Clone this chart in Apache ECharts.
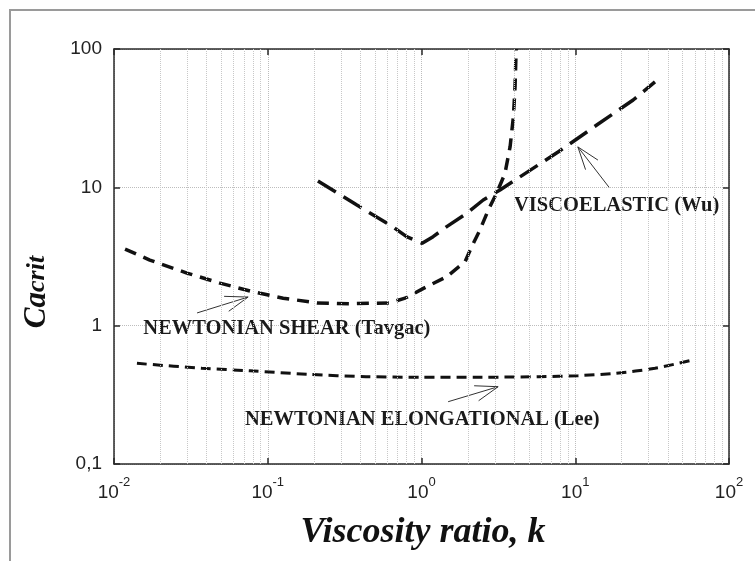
<!DOCTYPE html>
<html>
<head>
<meta charset="utf-8">
<script src="https://cdn.jsdelivr.net/npm/echarts@6/dist/echarts.min.js"></script>
<style>
html, body { margin: 0; padding: 0; background: #fff; }
#main { width: 755px; height: 561px; }
</style>
</head>
<body>
<div id="main"></div>
<script>
// axis ticks
var xExponents = ['-2', '-1', '0', '1', '2'];
var yTickValues = [0.1, 1, 10, 100];
var yTickLabels = ['0,1', '1', '10', '100'];
var minorSteps = [2, 3, 4, 5, 6, 7, 8, 9];
var decades = [0.01, 0.1, 1, 10];

// NEWTONIAN SHEAR (Tavgac)
var shearK  = [0.0118, 0.0171, 0.0298, 0.0489, 0.0767, 0.126, 0.209, 0.344, 0.62, 0.782, 1.03, 1.46, 1.92, 2.12, 2.40, 2.72, 3.08, 3.49, 3.77, 3.96, 4.06, 4.12, 4.13];
var shearCa = [3.58, 2.98, 2.40, 2.03, 1.78, 1.58, 1.46, 1.44, 1.46, 1.58, 1.86, 2.26, 2.90, 3.72, 4.92, 6.86, 9.06, 12.6, 19.7, 32.4, 53.5, 93, 100];

// VISCOELASTIC (Wu)
var viscoK  = [0.212, 0.38, 0.653, 0.80, 1.01, 1.19, 1.46, 1.97, 2.52, 3.24, 4.37, 7.73, 13.8, 23.8, 33.0];
var viscoCa = [11.1, 7.45, 5.17, 4.40, 3.94, 4.40, 5.2, 6.49, 8.1, 9.57, 11.9, 18.0, 28.2, 42.8, 57.8];

// NEWTONIAN ELONGATIONAL (Lee)
var elongK  = [0.0141, 0.0373, 0.0767, 0.183, 0.436, 0.99, 2.44, 5.81, 10.4, 18.4, 33.0, 58.3];
var elongCa = [0.534, 0.492, 0.472, 0.445, 0.428, 0.424, 0.424, 0.428, 0.435, 0.453, 0.492, 0.565];

// annotations (data units)
var labelTexts = ['VISCOELASTIC (Wu)', 'NEWTONIAN SHEAR (Tavgac)', 'NEWTONIAN ELONGATIONAL (Lee)'];
var labelAnchors = [[4.0, 7.33], [0.0155, 0.946], [0.0711, 0.208]];
var arrowTails = [[16.6, 10.0], [0.0347, 1.236], [1.49, 0.282]];
var arrowTips = [[10.4, 19.6], [0.0745, 1.61], [3.15, 0.362]];

function zip(a, b) {
    return a.map(function (v, i) { return [v, b[i]]; });
}

var minorLines = [];
decades.forEach(function (d) {
    minorSteps.forEach(function (m) { minorLines.push({ xAxis: d * m }); });
});

var myChart = echarts.init(document.getElementById('main'));

var axisLineStyle = { color: '#2a2a2a', width: 1.5 };
var tickStyle = { show: true, inside: true, length: 6, lineStyle: { color: '#2a2a2a', width: 1.5 } };
var gridStyle = { show: true, lineStyle: { color: '#bdbdbd', type: 'dotted', width: 1 } };

var option = {
    animation: false,
    backgroundColor: '#fff',
    grid: { left: 114, right: 26, top: 49, bottom: 97 },
    xAxis: [
        {
            type: 'log', logBase: 10, min: 0.01, max: 100,
            position: 'bottom',
            axisLine: { lineStyle: axisLineStyle },
            axisTick: tickStyle,
            splitLine: gridStyle,
            axisLabel: {
                margin: 12,
                formatter: function (v) {
                    var e = Math.round(Math.log10(v));
                    return '{b|10}{s|' + xExponents[e + 2] + '}';
                },
                rich: {
                    b: { fontFamily: 'Liberation Sans', fontSize: 19, color: '#222', lineHeight: 26, verticalAlign: 'bottom' },
                    s: { fontFamily: 'Liberation Sans', fontSize: 13, color: '#222', lineHeight: 26, verticalAlign: 'top' }
                }
            }
        },
        {
            type: 'log', logBase: 10, min: 0.01, max: 100,
            position: 'top',
            axisLine: { lineStyle: axisLineStyle },
            axisTick: tickStyle,
            splitLine: { show: false },
            axisLabel: { show: false }
        }
    ],
    yAxis: [
        {
            type: 'log', logBase: 10, min: 0.1, max: 100,
            position: 'left',
            axisLine: { lineStyle: axisLineStyle },
            axisTick: tickStyle,
            splitLine: gridStyle,
            axisLabel: {
                margin: 12,
                fontFamily: 'Liberation Sans', fontSize: 19, color: '#222',
                formatter: function (v) {
                    var i = yTickValues.findIndex(function (t) { return Math.abs(Math.log10(t) - Math.log10(v)) < 1e-6; });
                    return i >= 0 ? yTickLabels[i] : '';
                }
            }
        },
        {
            type: 'log', logBase: 10, min: 0.1, max: 100,
            position: 'right',
            axisLine: { lineStyle: axisLineStyle },
            axisTick: tickStyle,
            splitLine: { show: false },
            axisLabel: { show: false }
        }
    ],
    graphic: [
        {
            type: 'polyline',
            shape: { points: [[10, 561], [10, 10], [755, 10]] },
            style: { stroke: '#9a9a9a', lineWidth: 2, fill: null }
        },
        {
            type: 'text', x: 423, y: 533,
            style: {
                text: 'Viscosity ratio, k',
                font: 'italic bold 36px "Liberation Serif"',
                fill: '#111', align: 'center', verticalAlign: 'middle'
            }
        },
        {
            type: 'text', x: 37, y: 292, rotation: Math.PI / 2,
            style: {
                text: '{a|Ca}{c|crit}',
                fill: '#111', align: 'center', verticalAlign: 'middle',
                rich: {
                    a: { fontFamily: 'Liberation Serif', fontStyle: 'italic', fontWeight: 'bold', fontSize: 31, fill: '#111' },
                    c: { fontFamily: 'Liberation Serif', fontStyle: 'italic', fontWeight: 'bold', fontSize: 26, fill: '#111' }
                }
            }
        }
    ],
    series: [
        {
            type: 'line', data: [], z: 1, silent: true,
            markLine: {
                silent: true, symbol: 'none', label: { show: false },
                lineStyle: { color: '#c8c8c8', type: 'dotted', width: 1 },
                data: minorLines
            }
        },
        {
            name: 'NEWTONIAN SHEAR (Tavgac)', type: 'line', z: 3,
            data: zip(shearK, shearCa), showSymbol: false,
            lineStyle: { color: '#111', width: 3.5, type: [12, 8] }
        },
        {
            name: 'VISCOELASTIC (Wu)', type: 'line', z: 3,
            data: zip(viscoK, viscoCa), showSymbol: false,
            lineStyle: { color: '#111', width: 3.5, type: [21, 9] }
        },
        {
            name: 'NEWTONIAN ELONGATIONAL (Lee)', type: 'line', z: 3,
            data: zip(elongK, elongCa), showSymbol: false,
            smooth: 0.3,
            lineStyle: { color: '#111', width: 3, type: [10, 6] }
        },
        {
            type: 'custom', z: 4, silent: true,
            data: arrowTails.map(function (t, i) { return [t[0], t[1], arrowTips[i][0], arrowTips[i][1]]; }),
            encode: { x: [0, 2], y: [1, 3] },
            renderItem: function (params, api) {
                var p0 = api.coord([api.value(0), api.value(1)]);
                var p1 = api.coord([api.value(2), api.value(3)]);
                var ang = Math.atan2(p0[1] - p1[1], p0[0] - p1[0]);
                var len = 24, half = 19 * Math.PI / 180;
                var h1 = [p1[0] + len * Math.cos(ang + half), p1[1] + len * Math.sin(ang + half)];
                var h2 = [p1[0] + len * Math.cos(ang - half), p1[1] + len * Math.sin(ang - half)];
                return {
                    type: 'group',
                    children: [
                        { type: 'polyline', shape: { points: [p0, p1] }, style: { stroke: '#333', lineWidth: 1, fill: null } },
                        { type: 'polyline', shape: { points: [h1, p1, h2] }, style: { stroke: '#333', lineWidth: 1, fill: null } }
                    ]
                };
            }
        },
        {
            type: 'custom', z: 4, silent: true,
            data: labelAnchors.map(function (a, i) { return [a[0], a[1], i]; }),
            encode: { x: 0, y: 1 },
            renderItem: function (params, api) {
                var p = api.coord([api.value(0), api.value(1)]);
                return {
                    type: 'text', x: p[0], y: p[1],
                    style: {
                        text: labelTexts[api.value(2)],
                        font: 'bold 20.5px "Liberation Serif"',
                        fill: '#1a1a1a',
                        align: 'left', verticalAlign: 'middle',
                        textAlign: 'left', textVerticalAlign: 'middle'
                    }
                };
            }
        }
    ]
};

myChart.setOption(option);
</script>
</body>
</html>
